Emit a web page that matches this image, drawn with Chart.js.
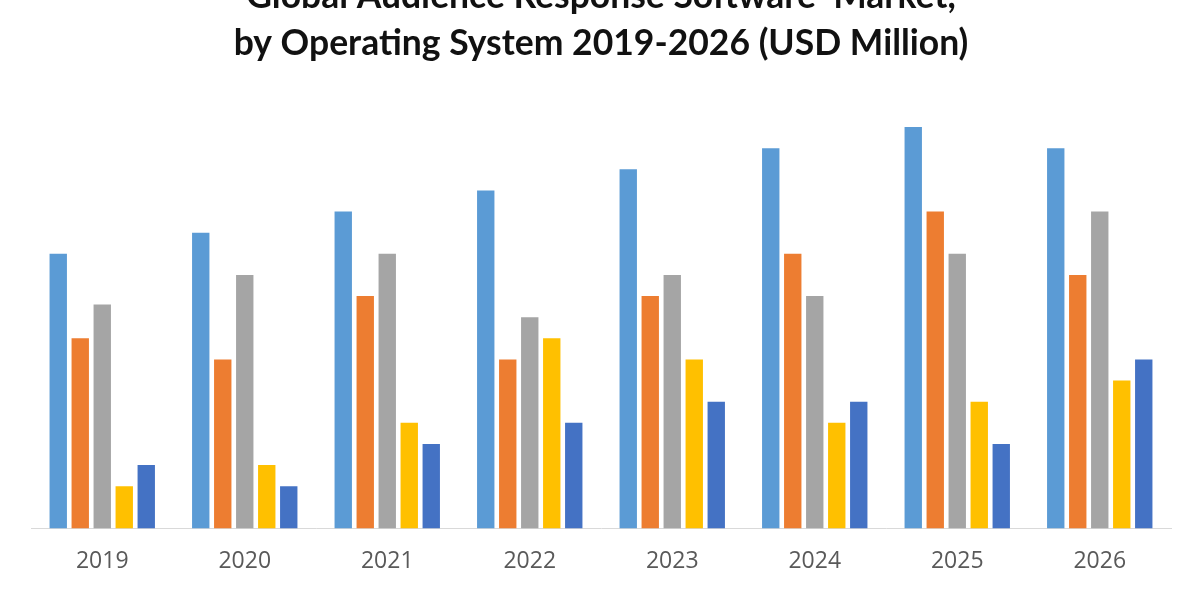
<!DOCTYPE html>
<html>
<head>
<meta charset="utf-8">
<script src="https://cdn.jsdelivr.net/npm/chart.js@4.4.1/dist/chart.umd.min.js"></script>
<style>
  html, body { margin: 0; padding: 0; background: #ffffff; overflow: hidden; }
  #wrap { position: relative; width: 1200px; height: 600px; overflow: hidden; }
  #box { position: absolute; left: 0; top: -40px; width: 1200px; height: 640px; }
</style>
</head>
<body>
<div id="wrap"><div id="box"><canvas id="c"></canvas></div></div>
<script>
const titleLines = ["Global Audience Response Software  Market,", "by Operating System 2019-2026 (USD Million)"];
const categories = ["2019", "2020", "2021", "2022", "2023", "2024", "2025", "2026"];
const seriesNames = ["Series 1", "Series 2", "Series 3", "Series 4", "Series 5"];
const series1 = [13, 14, 15, 16, 17, 18, 19, 18];
const series2 = [9, 8, 11, 8, 11, 13, 15, 12];
const series3 = [10.6, 12, 13, 10, 12, 11, 13, 15];
const series4 = [2, 3, 5, 9, 8, 5, 6, 7];
const series5 = [3, 2, 4, 5, 6, 6, 4, 8];
const seriesColors = ["#5B9BD5", "#ED7D31", "#A5A5A5", "#FFC000", "#4472C4"];

const allSeries = [series1, series2, series3, series4, series5];

new Chart(document.getElementById('c'), {
  type: 'bar',
  data: {
    labels: categories,
    datasets: allSeries.map((d, i) => ({
      label: seriesNames[i],
      data: d,
      backgroundColor: seriesColors[i],
      borderWidth: 0,
      categoryPercentage: 0.772,
      barPercentage: 0.79
    }))
  },
  options: {
    responsive: true,
    maintainAspectRatio: false,
    animation: false,
    layout: { padding: { top: 0, left: 31, right: 29, bottom: 6 } },
    plugins: {
      legend: { display: false },
      tooltip: { enabled: false },
      title: {
        display: true,
        text: titleLines,
        color: '#111111',
        font: { family: 'Lato', weight: 'bold', size: 35.5, lineHeight: 47 / 35.5 },
        padding: { top: 13, bottom: 39 }
      }
    },
    scales: {
      x: {
        grid: { display: false, drawTicks: false },
        border: { display: true, color: '#D9D9D9', width: 1 },
        ticks: { color: '#595959', font: { family: 'Open Sans', size: 23 }, padding: 19 }
      },
      y: {
        display: false,
        min: 0,
        max: 20
      }
    }
  }
});
</script>
</body>
</html>
